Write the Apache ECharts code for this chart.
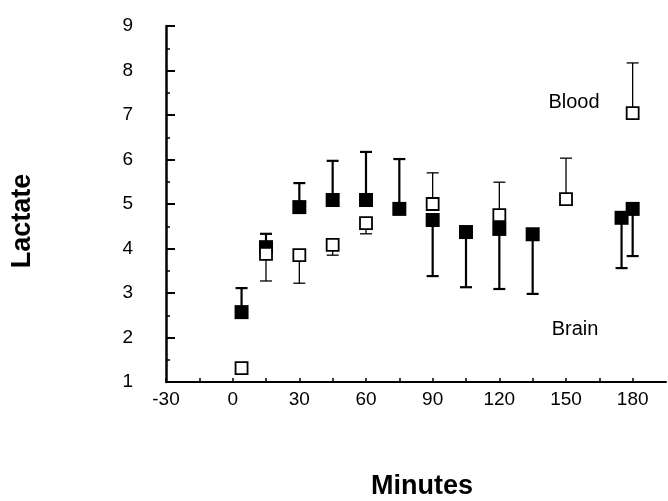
<!DOCTYPE html>
<html>
<head>
<meta charset="utf-8">
<script src="https://cdn.jsdelivr.net/npm/echarts@6/dist/echarts.min.js"></script>
<style>
  html, body { margin: 0; padding: 0; background: #fff; }
</style>
</head>
<body>
<div id="chart" style="width: 668px; height: 501px;"></div>
<script>
// time points (minutes)
var brainTimes = [4, 15, 30, 45, 60, 75, 90, 105, 120, 135, 175, 180];
var brainValues = [2.57, 4.03, 4.93, 5.09, 5.09, 4.89, 4.64, 4.37, 4.44, 4.32, 4.69, 4.89];
// end of the one-sided error bar
var brainErrEnd = [3.11, 4.33, 5.47, 5.97, 6.17, 6.01, 3.38, 3.13, 3.09, 2.98, 3.56, 3.83];

var bloodTimes = [4, 15, 30, 45, 60, 90, 120, 150, 180];
var bloodValues = [1.31, 3.88, 3.85, 4.08, 4.57, 5.0, 4.75, 5.11, 7.04];
var bloodErrEnd = [null, 3.27, 3.22, 3.85, 4.33, 5.70, 5.49, 6.03, 8.17];

var xTickLabels = [-30, 0, 30, 60, 90, 120, 150, 180];

var FONT = "'Liberation Sans', Arial, Helvetica, sans-serif";

function pairs(times, vals) {
  return times.map(function (t, i) { return [t, vals[i]]; });
}
function errPairs(times, vals, ends) {
  var out = [];
  times.forEach(function (t, i) {
    if (ends[i] != null) out.push([t, vals[i], ends[i]]);
  });
  return out;
}
function errRenderer(width, cap) {
  return function (params, api) {
    var p0 = api.coord([api.value(0), api.value(1)]);
    var p1 = api.coord([api.value(0), api.value(2)]);
    var st = { stroke: "#000", lineWidth: width };
    return {
      type: "group",
      children: [
        { type: "line", shape: { x1: p0[0], y1: p0[1], x2: p1[0], y2: p1[1] }, style: st },
        { type: "line", shape: { x1: p1[0] - cap, y1: p1[1], x2: p1[0] + cap, y2: p1[1] }, style: st }
      ]
    };
  };
}

var myChart = echarts.init(document.getElementById("chart"));
var option = {
  backgroundColor: "#fff",
  animation: false,
  grid: { left: 166, right: 2, top: 26, bottom: 119 },
  xAxis: {
    type: "value",
    min: -30,
    max: 195,
    interval: 15,
    splitLine: { show: false },
    axisLine: { onZero: false, lineStyle: { color: "#000", width: 2 } },
    axisTick: { inside: true, length: 4, lineStyle: { color: "#000", width: 1.5 } },
    axisLabel: {
      margin: 8,
      color: "#000",
      fontSize: 19,
      fontFamily: FONT,
      showMaxLabel: false,
      formatter: function (v) {
        return xTickLabels.indexOf(v) >= 0 ? String(v) : "";
      }
    }
  },
  yAxis: {
    type: "value",
    min: 1,
    max: 9,
    interval: 1,
    splitLine: { show: false },
    axisLine: { onZero: false, lineStyle: { color: "#000", width: 2.5 } },
    axisTick: { inside: true, length: 9, lineStyle: { color: "#000", width: 2 } },
    minorTick: { show: true, splitNumber: 2, length: 4, lineStyle: { color: "#000", width: 1.5 } },
    minorSplitLine: { show: false },
    axisLabel: {
      margin: 33, color: "#000", fontSize: 19, fontFamily: FONT,
      padding: [0, 0, 9, 0]
    }
  },
  graphic: [
    {
      type: "text",
      x: 23, y: 221,
      rotation: Math.PI / 2,
      style: {
        text: "Lactate", fill: "#000", font: "bold 27px " + FONT,
        textAlign: "center", textVerticalAlign: "middle"
      }
    },
    {
      type: "text",
      x: 422, y: 487,
      style: {
        text: "Minutes", fill: "#000", font: "bold 27px " + FONT,
        textAlign: "center", textVerticalAlign: "middle"
      }
    },
    {
      type: "text",
      x: 574, y: 102,
      style: {
        text: "Blood", fill: "#000", font: "20px " + FONT,
        textAlign: "center", textVerticalAlign: "middle"
      }
    },
    {
      type: "text",
      x: 575, y: 329,
      style: {
        text: "Brain", fill: "#000", font: "20px " + FONT,
        textAlign: "center", textVerticalAlign: "middle"
      }
    }
  ],
  series: [
    {
      name: "Brain err",
      type: "custom",
      renderItem: errRenderer(2.2, 6),
      data: errPairs(brainTimes, brainValues, brainErrEnd),
      z: 1
    },
    {
      name: "Brain",
      type: "scatter",
      symbol: "rect",
      symbolSize: 14,
      itemStyle: { color: "#000", opacity: 1 },
      data: pairs(brainTimes, brainValues),
      z: 2
    },
    {
      name: "Blood err",
      type: "custom",
      renderItem: errRenderer(1.3, 6),
      data: errPairs(bloodTimes, bloodValues, bloodErrEnd),
      z: 3
    },
    {
      name: "Blood",
      type: "scatter",
      symbol: "rect",
      symbolSize: 12,
      itemStyle: { color: "#fff", borderColor: "#000", borderWidth: 1.8, opacity: 1 },
      data: pairs(bloodTimes, bloodValues),
      z: 4
    }
  ]
};
myChart.setOption(option);
</script>
</body>
</html>
